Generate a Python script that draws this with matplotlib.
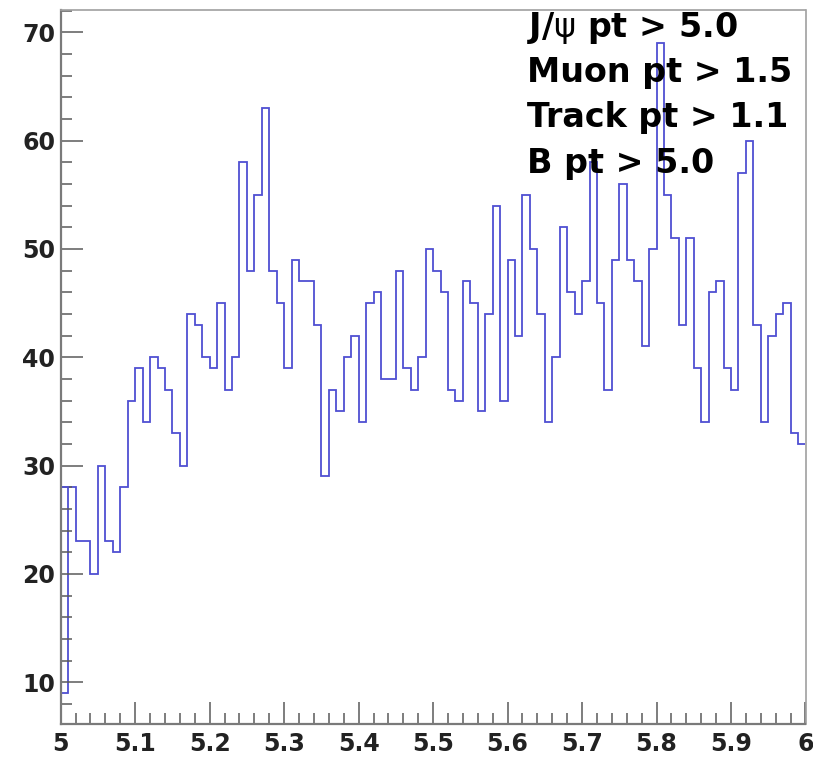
import numpy as np
import matplotlib
matplotlib.use('Agg')
import matplotlib.pyplot as plt
from matplotlib.ticker import MultipleLocator, FixedLocator

plt.rcParams['font.family'] = ['DejaVu Sans']
plt.rcParams['mathtext.fontset'] = 'dejavusans'

# B candidate mass, 100 bins between 5 and 6 GeV
x_min, x_max, n_bins = 5.0, 6.0, 100
counts = [9, 28, 23, 23, 20, 30, 23, 22, 28, 36,
          39, 34, 40, 39, 37, 33, 30, 44, 43, 40,
          39, 45, 37, 40, 58, 48, 55, 63, 48, 45,
          39, 49, 47, 47, 43, 29, 37, 35, 40, 42,
          34, 45, 46, 38, 38, 48, 39, 37, 40, 50,
          48, 46, 37, 36, 47, 45, 35, 44, 54, 36,
          49, 42, 55, 50, 44, 34, 40, 52, 46, 44,
          47, 58, 45, 37, 49, 56, 49, 47, 41, 50,
          69, 55, 51, 43, 51, 39, 34, 46, 47, 39,
          37, 57, 60, 43, 34, 42, 44, 45, 33, 32]

x_ticks = [5.0, 5.1, 5.2, 5.3, 5.4, 5.5, 5.6, 5.7, 5.8, 5.9, 6.0]
x_tick_labels = ['5', '5.1', '5.2', '5.3', '5.4', '5.5', '5.6', '5.7', '5.8', '5.9', '6']
y_ticks = [10, 20, 30, 40, 50, 60, 70]

cut_lines = [r'J/$\mathrm{\psi}$ pt > 5.0', 'Muon pt > 1.5', 'Track pt > 1.1', 'B pt > 5.0']

line_color = '#4f4fd2'
tick_color = '#5a5a5a'

W, H = 813, 761
fig = plt.figure(figsize=(W / 100, H / 100), dpi=100, facecolor='white')
ax = fig.add_axes([60.7 / W, 1 - 724 / H, (805.5 - 60.7) / W, (724 - 10) / H])

edges = np.linspace(x_min, x_max, n_bins + 1)
ax.stairs(counts, edges, baseline=None, color=line_color, linewidth=1.3)
# first bin outline as painted by the original macro
ax.plot([edges[0], edges[0], edges[1]], [counts[0], counts[1], counts[1]],
        color=line_color, linewidth=1.3)

ax.set_xlim(x_min, x_max)
ax.set_ylim(6.15, 72.05)

ax.xaxis.set_major_locator(FixedLocator(x_ticks))
ax.set_xticklabels(x_tick_labels)
ax.xaxis.set_minor_locator(MultipleLocator(0.02))
ax.yaxis.set_major_locator(FixedLocator(y_ticks))
ax.yaxis.set_minor_locator(MultipleLocator(2))

ax.tick_params(which='both', direction='in', color=tick_color, width=1.1,
               labelsize=17, labelcolor='#222222')
ax.tick_params(which='major', length=16)
ax.tick_params(which='minor', length=8)
ax.tick_params(axis='x', pad=6)
ax.tick_params(axis='y', pad=4)
for lab in ax.get_xticklabels() + ax.get_yticklabels():
    lab.set_fontweight('bold')

for side in ['left', 'bottom']:
    ax.spines[side].set_color('#7a7a7a')
    ax.spines[side].set_linewidth(1.6)
for side in ['top', 'right']:
    ax.spines[side].set_color('#a0a0a0')
    ax.spines[side].set_linewidth(1.2)

# selection cuts in the upper right corner
baselines = [36.7, 81.7, 126.7, 172.5]
for txt, yb in zip(cut_lines, baselines):
    fig.text(526.5 / W, 1 - yb / H, txt, fontsize=24, fontweight='bold',
             color='black', ha='left', va='baseline', zorder=10)

fig.savefig('out.png', dpi=100, facecolor='white')
